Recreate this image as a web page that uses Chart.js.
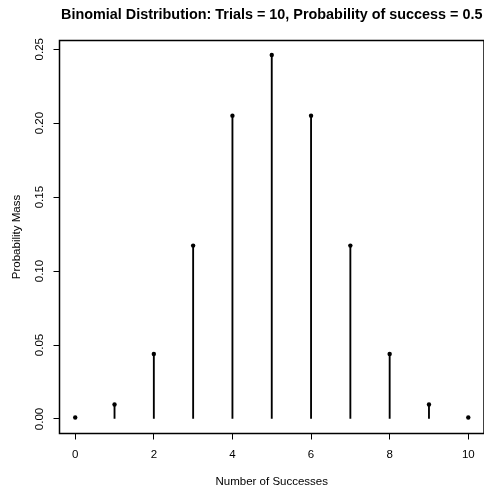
<!DOCTYPE html>
<html>
<head>
<meta charset="utf-8">
<script src="https://cdn.jsdelivr.net/npm/chart.js@4/dist/chart.umd.min.js"></script>
<style>
  body { margin: 0; background: #fff; }
  #wrap { width: 484px; height: 493px; position: relative; }
</style>
</head>
<body>
<div id="wrap"><canvas id="chart"></canvas></div>
<script>
// values
const successes = [0, 1, 2, 3, 4, 5, 6, 7, 8, 9, 10];
const probMass = [0.001, 0.0098, 0.0439, 0.1172, 0.2051, 0.2461, 0.2051, 0.1172, 0.0439, 0.0098, 0.001];
const xTicks = [0, 2, 4, 6, 8, 10];
const xTickLabels = ["0", "2", "4", "6", "8", "10"];
const yTicks = [0, 0.05, 0.1, 0.15, 0.2, 0.25];
const yTickLabels = ["0.00", "0.05", "0.10", "0.15", "0.20", "0.25"];

const titleText = "Binomial Distribution: Trials = 10, Probability of success = 0.5";
const xTitle = "Number of Successes";
const yTitle = "Probability Mass";

const font = "Arial, 'Liberation Sans', Helvetica, sans-serif";

const points = successes.map((x, i) => ({ x: x, y: probMass[i] }));

// box, title, tick labels (R style, y labels rotated)
const rDecor = {
  id: "rDecor",
  afterDraw(chart) {
    const ctx = chart.ctx;
    const area = chart.chartArea;
    const xScale = chart.scales.x;
    const yScale = chart.scales.y;
    ctx.save();
    ctx.strokeStyle = "#000";
    ctx.lineWidth = 1.5;
    ctx.strokeRect(area.left, area.top, area.right - area.left, area.bottom - area.top);

    ctx.fillStyle = "#000";
    ctx.textAlign = "center";
    ctx.textBaseline = "middle";
    ctx.font = "bold 14.4px " + font;
    ctx.fillText(titleText, (area.left + area.right) / 2, 15);

    ctx.font = "11.5px " + font;
    ctx.fillText(xTitle, (area.left + area.right) / 2, 482);

    xTicks.forEach((v, i) => {
      ctx.fillText(xTickLabels[i], xScale.getPixelForValue(v), 455);
    });

    yTicks.forEach((v, i) => {
      const y = yScale.getPixelForValue(v);
      ctx.save();
      ctx.translate(40, y);
      ctx.rotate(-Math.PI / 2);
      ctx.fillText(yTickLabels[i], 0, 0);
      ctx.restore();
    });

    ctx.save();
    ctx.translate(17, (area.top + area.bottom) / 2);
    ctx.rotate(-Math.PI / 2);
    ctx.fillText(yTitle, 0, 0);
    ctx.restore();
    ctx.restore();
  }
};

new Chart(document.getElementById("chart"), {
  data: {
    datasets: [
      {
        type: "bar",
        data: points,
        backgroundColor: "#000",
        borderWidth: 0,
        barThickness: 1.2
      },
      {
        type: "scatter",
        data: points,
        pointRadius: 2.2,
        pointBackgroundColor: "#000",
        pointBorderColor: "#000",
        pointBorderWidth: 0
      }
    ]
  },
  options: {
    responsive: true,
    maintainAspectRatio: false,
    animation: false,
    layout: { autoPadding: false, padding: { top: 40.5, left: 0, right: 0, bottom: 0 } },
    plugins: {
      legend: { display: false },
      tooltip: { enabled: false }
    },
    scales: {
      x: {
        type: "linear",
        offset: false,
        min: -0.4,
        max: 10.4,
        afterBuildTicks: (scale) => { scale.ticks = xTicks.map(v => ({ value: v })); },
        afterFit: (scale) => { scale.height = 59.5; scale.paddingLeft = 0; scale.paddingRight = 0; },
        border: { display: false },
        grid: { offset: false, drawOnChartArea: false, drawTicks: true, tickLength: 6, color: "#000", lineWidth: 1 },
        ticks: { display: false }
      },
      y: {
        type: "linear",
        min: -0.00984,
        max: 0.2559,
        afterBuildTicks: (scale) => { scale.ticks = yTicks.map(v => ({ value: v })); },
        afterFit: (scale) => { scale.width = 59.5; scale.paddingTop = 0; scale.paddingBottom = 0; },
        border: { display: false },
        grid: { drawOnChartArea: false, drawTicks: true, tickLength: 6, color: "#000", lineWidth: 1 },
        ticks: { display: false }
      }
    }
  },
  plugins: [rDecor]
});
</script>
</body>
</html>
